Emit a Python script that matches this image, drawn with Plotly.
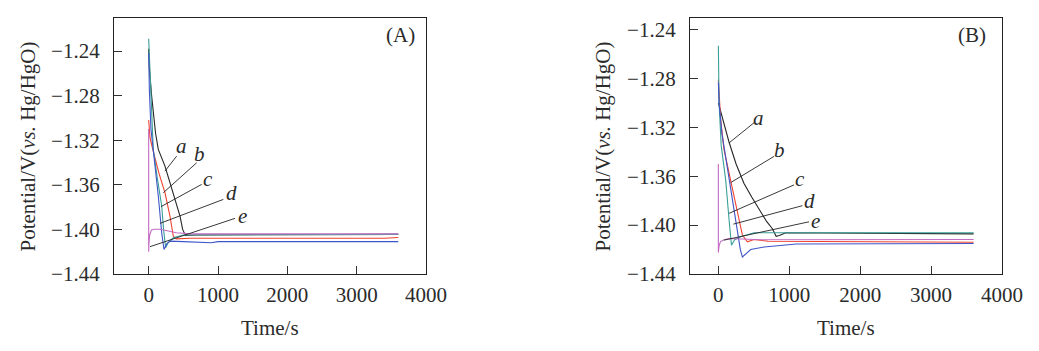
import plotly.graph_objects as go

# ---------------- data ----------------
# Panel A
tA_a = [0, 10, 43, 70, 100, 139, 235, 307, 380, 452, 490, 530, 700, 3600]
vA_a = [-1.238, -1.255, -1.2805, -1.300, -1.314, -1.3283, -1.3432, -1.3581, -1.3731, -1.388, -1.400, -1.4055, -1.405, -1.4045]
tA_b = [0, 20, 58, 150, 235, 307, 355, 400, 600, 3400, 3600]
vA_b = [-1.302, -1.318, -1.328, -1.350, -1.367, -1.388, -1.406, -1.4085, -1.4080, -1.4080, -1.4072]
tA_c = [0, 19, 43, 66, 120, 188, 215, 245, 280, 355, 500, 3600]
vA_c = [-1.229, -1.2565, -1.283, -1.328, -1.352, -1.379, -1.400, -1.4164, -1.412, -1.4075, -1.405, -1.4045]
tA_d = [0, 10, 33, 80, 139, 188, 221, 260, 307, 500, 700, 900, 1000, 3600]
vA_d = [-1.242, -1.275, -1.310, -1.335, -1.370, -1.403, -1.418, -1.413, -1.4105, -1.411, -1.4115, -1.412, -1.411, -1.411]
tA_e = [0, 0, 3, 15, 40, 80, 160, 250, 400, 600, 3600]
vA_e = [-1.310, -1.420, -1.414, -1.405, -1.4005, -1.3998, -1.3998, -1.401, -1.403, -1.404, -1.404]

# Panel B
tB_a = [0, 50, 100, 150, 250, 362, 470, 580, 680, 762, 815, 860, 950, 3600]
vB_a = [-1.300, -1.311, -1.322, -1.332, -1.350, -1.366, -1.377, -1.388, -1.397, -1.403, -1.4092, -1.4085, -1.4063, -1.4072]
tB_b = [0, 32, 79, 174, 268, 339, 409, 503, 700, 3600]
vB_b = [-1.281, -1.3136, -1.338, -1.3644, -1.3904, -1.4082, -1.4137, -1.4118, -1.4132, -1.4140]
tB_c = [0, 10, 40, 103, 150, 185, 230, 315, 503, 3600]
vB_c = [-1.2533, -1.300, -1.335, -1.363, -1.395, -1.4165, -1.412, -1.4096, -1.4063, -1.4063]
tB_d = [0, 10, 50, 103, 198, 268, 310, 339, 380, 456, 644, 974, 1100, 3600]
vB_d = [-1.2834, -1.300, -1.325, -1.3438, -1.3794, -1.4041, -1.420, -1.4261, -1.424, -1.420, -1.4179, -1.4165, -1.4155, -1.4150]
tB_e = [0, 0, 10, 30, 80, 150, 300, 600, 3600]
vB_e = [-1.350, -1.4225, -1.417, -1.4135, -1.412, -1.411, -1.4115, -1.412, -1.4118]

curve_names = ["a", "b", "c", "d", "e"]
curve_colors = ["#262626", "#f0412f", "#3a9f98", "#3f55c8", "#c46cc4"]

# curve labels: text position, leader start, leader end (data units)
labA_text = [(476, -1.3253), (740, -1.3327), (860, -1.3552), (1198, -1.3671), (1356, -1.3881)]
labA_start = [(404, -1.3343), (693, -1.3402), (765, -1.3596), (1077, -1.3731), (1245, -1.3901)]
labA_end = [(235, -1.3477), (211, -1.3671), (177, -1.3796), (163, -1.3946), (19, -1.4155)]
labB_text = [(573, -1.3122), (856, -1.3388), (1152, -1.3624), (1279, -1.3800), (1370, -1.3965)]
labB_start = [(503, -1.3163), (785, -1.3438), (1067, -1.3671), (1186, -1.3841), (1279, -1.3973)]
labB_end = [(150, -1.3328), (174, -1.3652), (150, -1.3904), (212, -1.3992), (79, -1.4123)]

y_ticks = [-1.24, -1.28, -1.32, -1.36, -1.40, -1.44]
y_ticktext = ["\u22121.24", "\u22121.28", "\u22121.32", "\u22121.36", "\u22121.40", "\u22121.44"]
x_ticks = [0, 1000, 2000, 3000, 4000]
x_ticktext = ["0", "1000", "2000", "3000", "4000"]
x_title = "Time/s"
y_title = "Potential/V(<i>vs.</i> Hg/HgO)"
panel_tags = ["(A)", "(B)"]

# ---------------- figure ----------------
FONT = "Liberation Serif, Times New Roman, serif"
TXT = "#2b2b2b"
fig = go.Figure()

seriesA = [(tA_a, vA_a), (tA_b, vA_b), (tA_c, vA_c), (tA_d, vA_d), (tA_e, vA_e)]
seriesB = [(tB_a, vB_a), (tB_b, vB_b), (tB_c, vB_c), (tB_d, vB_d), (tB_e, vB_e)]

for (t, v), nm, col in zip(seriesA, curve_names, curve_colors):
    fig.add_trace(go.Scatter(x=t, y=v, mode="lines", name=nm, line=dict(color=col, width=1.1),
                             xaxis="x", yaxis="y", showlegend=False))
for (t, v), nm, col in zip(seriesB, curve_names, curve_colors):
    fig.add_trace(go.Scatter(x=t, y=v, mode="lines", name=nm, line=dict(color=col, width=1.1),
                             xaxis="x2", yaxis="y2", showlegend=False))

axis_common = dict(
    showgrid=False, zeroline=False, showline=True, mirror=True, automargin=False,
    linecolor="#222", linewidth=1.3, ticks="inside", ticklen=8, tickwidth=1,
    tickcolor="#333", tickfont=dict(family=FONT, size=21, color=TXT),
)

XD_A = [114 / 1039, 426 / 1039]
XD_B = [690 / 1039, 1002 / 1039]

fig.update_layout(
    width=1039, height=351,
    margin=dict(l=0, r=0, t=18, b=77),
    paper_bgcolor="white", plot_bgcolor="white",
    font=dict(family=FONT, color=TXT),
    xaxis=dict(domain=XD_A, range=[-500, 4000], anchor="y",
               tickvals=x_ticks, ticktext=x_ticktext, ticklabelstandoff=2, **axis_common),
    yaxis=dict(domain=[0, 1], range=[-1.44, -1.2104], anchor="x",
               tickvals=y_ticks, ticktext=y_ticktext, ticklabelstandoff=9, **axis_common),
    xaxis2=dict(domain=XD_B, range=[-400, 4000], anchor="y2",
                tickvals=x_ticks, ticktext=x_ticktext, ticklabelstandoff=2, **axis_common),
    yaxis2=dict(domain=[0, 1], range=[-1.44, -1.2306], anchor="x2",
                tickvals=y_ticks, ticktext=y_ticktext, ticklabelstandoff=9, **axis_common),
)

annotations = []
shapes = []
for xr, yr, texts, starts, ends in [("x", "y", labA_text, labA_start, labA_end),
                                   ("x2", "y2", labB_text, labB_start, labB_end)]:
    for nm, (tx, ty), (sx, sy), (ex, ey) in zip(curve_names, texts, starts, ends):
        annotations.append(dict(x=tx, y=ty, xref=xr, yref=yr, text=f"<i>{nm}</i>", showarrow=False,
                                xanchor="center", yanchor="middle",
                                font=dict(family=FONT, size=21, color=TXT)))
        shapes.append(dict(type="line", xref=xr, yref=yr, x0=sx, y0=sy, x1=ex, y1=ey,
                           line=dict(color="#222", width=0.9)))

# axis titles
for xd, ytx in [(XD_A, 28), (XD_B, 603)]:
    annotations.append(dict(x=(xd[0] + xd[1]) / 2, y=-0.211, xref="paper", yref="paper",
                            text=x_title, showarrow=False, xanchor="center", yanchor="middle",
                            font=dict(family=FONT, size=21, color=TXT)))
    annotations.append(dict(x=ytx / 1039, y=0.498, xref="paper", yref="paper",
                            text=y_title, textangle=-90, showarrow=False,
                            xanchor="center", yanchor="middle",
                            font=dict(family=FONT, size=21, color=TXT)))

for tag, px in zip(panel_tags, [400, 972]):
    annotations.append(dict(x=px / 1039, y=1 - 17 / 256, xref="paper", yref="paper", text=tag,
                            showarrow=False, xanchor="center", yanchor="middle",
                            font=dict(family=FONT, size=21, color=TXT)))

fig.update_layout(annotations=annotations, shapes=shapes)

fig.write_html("out.html")
